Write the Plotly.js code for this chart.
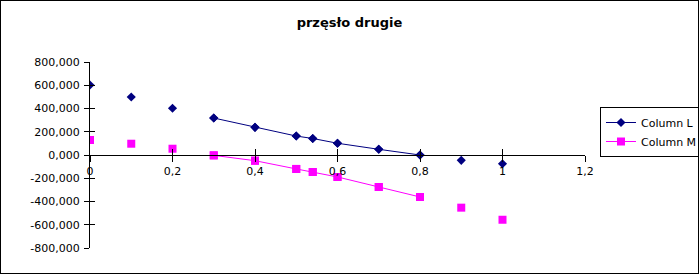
<!DOCTYPE html>
<html><head><meta charset="utf-8">
<script src="https://cdn.plot.ly/plotly-3.0.1.min.js"></script>
<style>
html,body{margin:0;padding:0;background:#fff;}
#chart{width:697px;height:272px;border:1px solid #000;}
</style>
</head><body>
<div id="chart"></div>
<script>
const xValues = [0, 0.1, 0.2, 0.3, 0.4, 0.5, 0.54, 0.6, 0.7, 0.8, 0.9, 1.0];
const columnL = [602, 499, 402, 318, 238, 163, 142, 101, 49, 0, -46, -75];
const columnM = [129, 97, 54, -3, -49, -120, -146, -189, -275, -361, -453, -557];
const lineStart = 3, lineEnd = 9; // connected segment 0.3 .. 0.8
const xTickVals = [0, 0.2, 0.4, 0.6, 0.8, 1.0, 1.2];
const xTickText = ["0", "0,2", "0,4", "0,6", "0,8", "1", "1,2"];
const yTickVals = [-800, -600, -400, -200, 0, 200, 400, 600, 800];
const yTickText = ["-800,000", "-600,000", "-400,000", "-200,000", "0,000", "200,000", "400,000", "600,000", "800,000"];
const seriesNames = ["Column L", "Column M"];
const colors = ["#000080", "#ff00ff"];
const symbols = ["diamond", "square"];

const series = [columnL, columnM];
const markerSizes = [7, 8];
const traces = [];
series.forEach((ys, i) => {
  traces.push({
    x: xValues.slice(lineStart, lineEnd + 1), y: ys.slice(lineStart, lineEnd + 1),
    name: seriesNames[i], type: 'scatter', mode: 'lines+markers',
    line: {color: colors[i], width: 1},
    marker: {symbol: symbols[i], size: markerSizes[i], color: colors[i]},
    xaxis: 'x', yaxis: 'y'
  });
});
series.forEach((ys, i) => {
  traces.push({
    x: xValues, y: ys, name: seriesNames[i], type: 'scatter', mode: 'markers',
    showlegend: false,
    marker: {symbol: symbols[i], size: markerSizes[i], color: colors[i]},
    xaxis: 'x2', yaxis: 'y2'
  });
});

const font = {family: 'DejaVu Sans, sans-serif', size: 11, color: '#000'};
const xBase = {range: [0, 1.2], tickvals: xTickVals, ticktext: xTickText, showgrid: false,
  zeroline: false, showline: true, linecolor: '#000', linewidth: 1, tickcolor: '#000',
  ticklen: 6, tickwidth: 1, anchor: 'free', position: 0.5, fixedrange: true};
const yBase = {range: [-800, 800], tickvals: yTickVals, ticktext: yTickText, showgrid: false,
  zeroline: false, showline: true, linecolor: '#000', linewidth: 1, tickcolor: '#000',
  ticklen: 5, tickwidth: 1, fixedrange: true};

const layout = {
  width: 697, height: 272,
  margin: {l: 89, r: 113, t: 61, b: 25, autoexpand: false},
  paper_bgcolor: '#fff', plot_bgcolor: '#fff',
  font: font,
  title: {text: '<b>przęsło drugie</b>', font: {family: 'DejaVu Sans, sans-serif', size: 13, color: '#000'},
    x: 0.5, xref: 'container', y: 0.92, yref: 'container', yanchor: 'middle'},
  xaxis: Object.assign({}, xBase, {ticks: 'outside', showticklabels: true}),
  yaxis: Object.assign({}, yBase, {ticks: 'outside', showticklabels: true, anchor: 'x', ticklabelstandoff: 2}),
  xaxis2: Object.assign({}, xBase, {ticks: 'inside', showticklabels: false, overlaying: 'x'}),
  yaxis2: Object.assign({}, yBase, {ticks: 'inside', ticklen: 5, showticklabels: false, overlaying: 'y', anchor: 'x2'}),
  showlegend: true,
  legend: {x: 1.0303, xanchor: 'left', y: 0.758, yanchor: 'top',
    bordercolor: '#000', borderwidth: 1, bgcolor: '#fff',
    font: {family: 'DejaVu Sans, sans-serif', size: 11, color: '#000'},
    tracegroupgap: 0, itemwidth: 30}
};
Plotly.newPlot('chart', traces, layout, {displayModeBar: false, staticPlot: true});
</script>
</body></html>
